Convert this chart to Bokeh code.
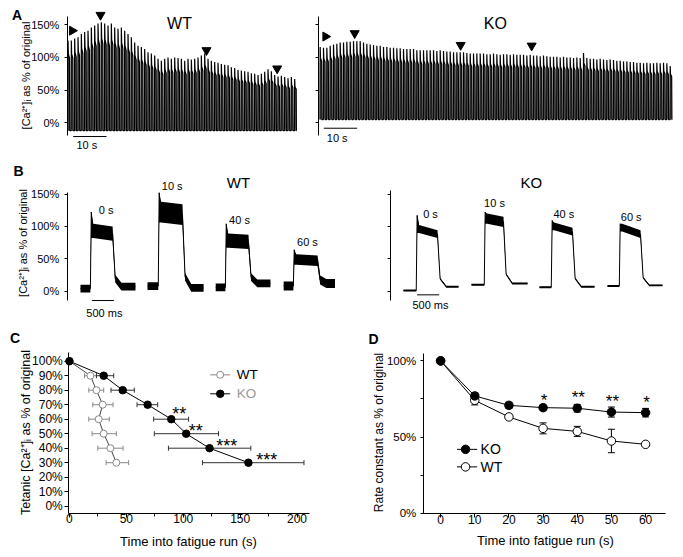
import numpy as np
from bokeh.plotting import figure
from bokeh.layouts import row, column
from bokeh.models import (Range1d, FixedTicker, PrintfTickFormatter,
                          Whisker, TeeHead, ColumnDataSource)
from bokeh.embed import file_html
from bokeh.resources import INLINE
from bokeh.core.properties import value

FONT = "Liberation Sans"

# ---------------- Panel A: peak [Ca2+]i of every tetanus (% of original), one per second
wt_peaks = [126, 126, 129, 131, 136, 139, 141, 146, 149, 152,
            154, 152, 149, 152, 146, 144, 146, 141, 136, 131,
            123, 118, 116, 113, 108, 106, 103, 98, 95, 98,
            100, 98, 100, 99, 98, 95, 98, 97, 98, 100,
            103, 106, 98, 95, 93, 92, 90, 89, 88, 85,
            84, 81, 80, 79, 78, 76, 75, 73, 75, 78,
            82, 79, 73, 71, 72, 70, 68, 70, 67]
ko_peaks = [116, 115, 115, 118, 120, 121, 123, 123, 124, 124,
            125, 125, 125, 123, 121, 120, 119, 118, 118, 116,
            116, 115, 115, 114, 114, 113, 113, 113, 113, 111,
            111, 111, 111, 111, 111, 110, 111, 110, 109, 109,
            108, 108, 108, 108, 107, 106, 106, 106, 106, 106,
            105, 105, 106, 105, 104, 105, 105, 104, 105, 104,
            104, 104, 103, 104, 103, 103, 102, 103, 102, 101,
            101, 101, 100, 101, 100, 100, 99, 100, 99, 107,
            99, 98, 98, 97, 98, 97, 96, 97, 96, 95,
            95, 94, 94, 93, 93, 92, 92, 91, 92, 91,
            91, 92, 91, 92, 91, 87]
wt_base = -12
ko_base = 5
wt_arrow_t = [1.3, 9.8, 41.6, 62.8]
wt_arrow_y = [141, 165, 111, 83]
ko_arrow_t = [1.65, 10.4, 42.2, 63.5]
ko_arrow_y = [132, 137, 119, 118]
a_ticks = [0, 50, 100, 150]

# ---------------- Panel B: single tetani (time in ms, [Ca2+]i in %)
b_labels = ["0 s", "10 s", "40 s", "60 s"]
wt_b_start = [302, 1825, 3375, 4920]
wt_b_rise = [532, 2075, 3600, 5145]
wt_b_fall = [1032, 2620, 4120, 5690]
wt_b_end = [1552, 3100, 4620, 6160]
wt_b_pre = [4, 8, 6, 8]
wt_b_peak = [122, 152, 104, 64]
wt_b_plat0 = [93, 122, 78, 49]
wt_b_plat1 = [89, 118, 76, 47]
wt_b_post = [7, 5, 12, 12]
wt_b_noise_base = [6, 6, 6, 7]
wt_b_noise_plat = [11, 16, 11, 8]

ko_b_start = [295, 1840, 3386, 4932]
ko_b_rise = [590, 2136, 3659, 5205]
ko_b_fall = [1068, 2568, 4136, 5682]
ko_b_end = [1545, 3114, 4636, 6182]
ko_b_pre = [1, 10, 6, 8]
ko_b_peak = [117, 122, 109, 104]
ko_b_plat0 = [96, 112, 100, 98]
ko_b_plat1 = [88, 107, 92, 88]
ko_b_post = [7, 12, 7, 9]
ko_b_noise_base = [1.5, 1.5, 1.5, 1.5]
ko_b_noise_plat = [6, 8, 6, 6]

# ---------------- Panel C: time to reach each tetanic [Ca2+]i level
c_levels = [100, 90, 80, 70, 60, 50, 40, 30]
c_wt_time = [0, 18.4, 23.7, 29.2, 25.7, 30.1, 36.0, 41.2]
c_wt_lo = [0, 13.2, 17.0, 20.5, 17.0, 19.9, 24.9, 32.2]
c_wt_hi = [0, 23.7, 30.1, 38.3, 35.0, 41.2, 47.1, 52.0]
c_ko_time = [0, 30.1, 46.8, 68.7, 89.5, 102.6, 123.1, 157.3]
c_ko_lo = [0, 23.7, 36.5, 59.4, 74.0, 74.6, 87.0, 116.9]
c_ko_hi = [0, 38.9, 57.0, 77.5, 104.7, 131.0, 159.4, 206.1]
c_stars = ["**", "**", "***", "***"]
c_star_level = [60, 50, 40, 30]
c_yticks = [0, 10, 20, 30, 40, 50, 60, 70, 80, 90, 100]
c_xticks = [0, 50, 100, 150, 200]

# ---------------- Panel D: rate constant
d_time = [0, 10, 20, 30, 40, 50, 60]
d_ko = [100, 77.0, 70.8, 69.3, 68.9, 66.4, 66.0]
d_ko_sem = [0, 2.2, 2.0, 1.8, 2.5, 3.3, 2.8]
d_wt = [100, 74.1, 63.2, 55.7, 53.7, 47.4, 45.2]
d_wt_sem = [0, 3.0, 1.0, 3.6, 3.3, 7.7, 0.5]
d_stars = ["*", "**", "**", "*"]
d_star_time = [30, 40, 50, 60]
d_yticks = [0, 50, 100]
d_xticks = [0, 10, 20, 30, 40, 50, 60]

YL = "[Ca\u00b2\u207a]\u1d62 as % of original"
XL = "Time into fatigue run (s)"


def mkfig(w, h, xr, yr, xaxis=True):
    p = figure(width=w, height=h, x_range=Range1d(*xr), y_range=Range1d(*yr),
               output_backend="svg", toolbar_location=None, title=None,
               x_axis_type="linear" if xaxis else None,
               min_border_left=0, min_border_right=0, min_border_top=0,
               min_border_bottom=0)
    p.grid.visible = False
    p.outline_line_color = None
    p.background_fill_color = "white"
    p.border_fill_color = "white"
    return p


def style_axis(ax, size, tick_out, standoff):
    ax.axis_line_color = "black"
    ax.major_tick_line_color = "black"
    ax.minor_tick_line_color = "black"
    ax.major_tick_in = 0
    ax.major_tick_out = tick_out
    ax.minor_tick_in = 0
    ax.minor_tick_out = 3
    ax.major_label_text_font = FONT
    ax.major_label_text_font_size = size
    ax.major_label_text_color = "black"
    ax.major_label_standoff = standoff


def txt(p, x, y, s, size, color="black", align="center", baseline="middle",
        bold=False, angle=0.0):
    p.text(x=[x], y=[y], text=[s], text_font=value(FONT), text_font_size=size,
           text_color=color, text_align=align, text_baseline=baseline,
           text_font_style="bold" if bold else "normal", angle=angle)


def train(peaks, base):
    xs, ys = [], []
    for i, pk in enumerate(peaks):
        t = float(i)
        plat = base + 0.8 * (pk - base)
        xs += [t, t + 0.05, t + 0.15, t + 0.5, t + 0.57]
        ys += [base, pk, plat + 0.05 * (pk - base), plat, base]
    xs.append(len(peaks) - 0.45)
    ys.append(base)
    return np.array(xs), np.array(ys)


def draw_train(p, peaks, base):
    xs, ys = train(peaks, base)
    p.varea(x=xs, y1=np.full(len(xs), base), y2=ys, fill_color="#707070")
    p.line(xs, ys, line_color="black", line_width=1.2)


def draw_tetani(p, st, ri, fa, en, pre, pk, p0, p1, post, nb, npl):
    for j in range(len(st)):
        mid = post[j] + 0.15 * (p1[j] - post[j])
        x = [st[j], ri[j] - 5, ri[j] + 15, ri[j] + 60, fa[j], fa[j] + 60, fa[j] + 200, en[j]]
        c = [pre[j], pre[j], pk[j], p0[j], p1[j], mid, post[j], post[j]]
        up = [pre[j] + nb[j], pre[j] + nb[j], pk[j], p0[j] + npl[j], p1[j] + npl[j],
              mid + nb[j], post[j] + nb[j], post[j] + nb[j]]
        lo = [pre[j] - nb[j], pre[j] - nb[j], p0[j] - npl[j], p0[j] - npl[j],
              p1[j] - npl[j], mid - nb[j], post[j] - nb[j], post[j] - nb[j]]
        p.varea(x=x, y1=lo, y2=up, fill_color="black")
        p.line(x, c, line_color="black", line_width=1)


def pct_axis(p, ticks, bounds, loc, size, tick_out, standoff, labels=True):
    ax = p.yaxis[0]
    ax.ticker = FixedTicker(ticks=ticks)
    if labels:
        ax.formatter = PrintfTickFormatter(format="%d%%")
    else:
        ax.major_label_overrides = {t: "" for t in ticks}
    ax.bounds = bounds
    ax.fixed_location = loc
    style_axis(ax, size, tick_out, standoff)
    return ax


# ================= Panel A =================
a1 = mkfig(310, 160, (-20.2, 72.8), (-57.7, 187.2), xaxis=False)
pct_axis(a1, a_ticks, (-19.4, 162), -0.15, "11px", 3, 5)
draw_train(a1, wt_peaks, wt_base)
a1.scatter(wt_arrow_t[1:], wt_arrow_y[1:], marker="inverted_triangle", size=9, color="black")
a1.scatter(wt_arrow_t[:1], wt_arrow_y[:1], marker="triangle", angle=-np.pi / 2, size=9, color="black")
a1.line([1.61, 11.61], [-21, -21], line_color="black", line_width=1)
txt(a1, 5.7, -34, "10 s", "11px")
txt(a1, 33.5, 151.5, "WT", "16px")
txt(a1, -15.2, 165.3, "A", "14px", bold=True)
txt(a1, -12.7, 72.4, YL, "11px", angle=np.pi / 2)

a2 = mkfig(373, 160, (-2.85, 109.05), (-57.7, 187.2), xaxis=False)
pct_axis(a2, a_ticks, (-19.4, 162), -0.45, "11px", 3, 0, labels=False)
draw_train(a2, ko_peaks, ko_base)
a2.scatter(ko_arrow_t[1:], ko_arrow_y[1:], marker="inverted_triangle", size=9, color="black")
a2.scatter(ko_arrow_t[:1], ko_arrow_y[:1], marker="triangle", angle=-np.pi / 2, size=9, color="black")
a2.line([1.14, 11.14], [-8.3, -8.3], line_color="black", line_width=1)
txt(a2, 5.16, -22.5, "10 s", "11px")
txt(a2, 52.6, 152, "KO", "16px")

# ================= Panel B =================
b1 = mkfig(335, 162, (-1516, 6098), (-48.3, 201.7), xaxis=False)
pct_axis(b1, a_ticks, (-14.4, 153), 0, "11px", 3, 5)
draw_tetani(b1, wt_b_start, wt_b_rise, wt_b_fall, wt_b_end, wt_b_pre, wt_b_peak,
            wt_b_plat0, wt_b_plat1, wt_b_post, wt_b_noise_base, wt_b_noise_plat)
for s, (x, y) in zip(b_labels, [(886, 126), (2386, 161.6), (3916, 110.2), (5461, 76.7)]):
    txt(b1, x, y, s, "11px")
b1.line([561, 1061], [-14.4, -14.4], line_color="black", line_width=1)
txt(b1, 845, -34.4, "500 ms", "11px")
txt(b1, 3893, 167, "WT", "15px")
txt(b1, -1107, 185.5, "B", "14px", bold=True)
txt(b1, -1005, 74.4, YL, "11px", angle=np.pi / 2)

b2 = mkfig(348, 162, (-1250, 6659), (-48.3, 201.7), xaxis=False)
pct_axis(b2, a_ticks, (-14.4, 155), 0, "11px", 3, 0, labels=False)
draw_tetani(b2, ko_b_start, ko_b_rise, ko_b_fall, ko_b_end, ko_b_pre, ko_b_peak,
            ko_b_plat0, ko_b_plat1, ko_b_post, ko_b_noise_base, ko_b_noise_plat)
for s, (x, y) in zip(b_labels, [(909, 119.4), (2364, 135.8), (3939, 119.4), (5470, 114.2)]):
    txt(b2, x, y, s, "11px")
b2.line([607, 1107], [-5.6, -5.6], line_color="black", line_width=1)
txt(b2, 909, -20.8, "500 ms", "11px")
txt(b2, 3200, 167.7, "KO", "15px")

# ================= Panel C =================
c = mkfig(340, 235, (-60.6, 238.2), (-35.4, 126.7))
pct_axis(c, c_yticks, (-4.83, 106), -0.6, "12px", 4, 2)
xa = c.xaxis[0]
xa.ticker = FixedTicker(ticks=c_xticks, minor_ticks=[25, 75, 125, 175])
xa.bounds = (-0.6, 211)
xa.fixed_location = -4.83
style_axis(xa, "12px", 4, -3)
txt(c, -38.5, 50.8, "Tetanic [Ca\u00b2\u207a]\u1d62 as % of original", "12.5px", angle=np.pi / 2)
txt(c, 104.6, -24.2, XL, "13px")

srcw = ColumnDataSource(dict(y=c_levels, lo=c_wt_lo, hi=c_wt_hi))
srck = ColumnDataSource(dict(y=c_levels, lo=c_ko_lo, hi=c_ko_hi))
c.add_layout(Whisker(source=srcw, base="y", lower="lo", upper="hi", dimension="width",
                     line_color="#888888", line_width=1,
                     lower_head=TeeHead(size=5, line_color="#888888"),
                     upper_head=TeeHead(size=5, line_color="#888888")))
c.add_layout(Whisker(source=srck, base="y", lower="lo", upper="hi", dimension="width",
                     line_color="#333333", line_width=1,
                     lower_head=TeeHead(size=5, line_color="#333333"),
                     upper_head=TeeHead(size=5, line_color="#333333")))
c.line(c_wt_time, c_levels, line_color="#444444", line_width=1)
c.scatter(c_wt_time, c_levels, marker="circle", size=7, line_color="#888888",
          fill_color="white", line_width=1)
c.line(c_ko_time, c_levels, line_color="black", line_width=1)
c.scatter(c_ko_time, c_levels, marker="circle", size=7.5, color="black")
star_x = {60: 96.5, 50: 111.1, 40: 138.3, 30: 173.4}
star_y = {60: 63.5, 50: 51.6, 40: 41.6, 30: 31.8}
for s, lv in zip(c_stars, c_star_level):
    txt(c, star_x[lv], star_y[lv], s, "18px", baseline="alphabetic")
# legend
c.line([123.7, 141.2], [90.6, 90.6], line_color="#888888", line_width=1)
c.scatter([132.5], [90.6], marker="circle", size=7, line_color="#888888", fill_color="white")
txt(c, 147, 90.6, "WT", "13.5px", align="left")
c.line([123.7, 141.2], [77.5, 77.5], line_color="black", line_width=1)
c.scatter([132.5], [77.5], marker="circle", size=7.5, color="black")
txt(c, 147, 77.5, "KO", "13.5px", color="#999999", align="left")
txt(c, -47.7, 115.7, "C", "14px", bold=True)

# ================= Panel D =================
d = mkfig(343, 235, (-29.3, 71.1), (-29.1, 125.2))
ax = d.yaxis[0]
ax.ticker = FixedTicker(ticks=d_yticks, minor_ticks=[25, 75])
ax.formatter = PrintfTickFormatter(format="%d%%")
ax.bounds = (0, 105)
ax.fixed_location = -5.06
style_axis(ax, "11.5px", 3, 4)
xa = d.xaxis[0]
xa.ticker = FixedTicker(ticks=d_xticks)
xa.bounds = (-5.06, 65.8)
xa.fixed_location = 0
style_axis(xa, "12px", 4, -2)
txt(d, -17.9, 53.0, "Rate constant as % of original", "12px", angle=np.pi / 2)
txt(d, 30.7, -17.8, XL, "13px")

wl = [m - s for m, s in zip(d_wt, d_wt_sem)]
wu = [m + s for m, s in zip(d_wt, d_wt_sem)]
kl = [m - s for m, s in zip(d_ko, d_ko_sem)]
ku = [m + s for m, s in zip(d_ko, d_ko_sem)]
for lo_, up_ in ((wl, wu), (kl, ku)):
    d.add_layout(Whisker(source=ColumnDataSource(dict(x=d_time, lo=lo_, up=up_)),
                         base="x", lower="lo", upper="up", dimension="height",
                         line_color="black", line_width=1,
                         lower_head=TeeHead(size=7, line_color="black"),
                         upper_head=TeeHead(size=7, line_color="black")))
d.line(d_time, d_wt, line_color="black", line_width=1)
d.scatter(d_time, d_wt, marker="circle", size=8.5, line_color="black", fill_color="white")
d.line(d_time, d_ko, line_color="black", line_width=1)
d.scatter(d_time, d_ko, marker="circle", size=8.5, color="black")
d_star_y = [74.2, 76.2, 73.6, 72.4]
for s, t, yy in zip(d_stars, d_star_time, d_star_y):
    txt(d, t + 0.3, yy, s, "17px", baseline="alphabetic")
d.line([4.8, 10.7], [41.9, 41.9], line_color="black", line_width=1)
d.scatter([7.3], [41.9], marker="circle", size=8.5, color="black")
txt(d, 11.7, 41.9, "KO", "14px", align="left")
d.line([4.8, 10.7], [30.4, 30.4], line_color="black", line_width=1)
d.scatter([7.3], [30.4], marker="circle", size=8.5, line_color="black", fill_color="white")
txt(d, 11.7, 30.4, "WT", "14px", align="left")
txt(d, -19.6, 114.4, "D", "14px", bold=True)

layout = column(row(a1, a2), row(b1, b2), row(c, d))
open("out.html", "w").write(file_html(layout, INLINE))
